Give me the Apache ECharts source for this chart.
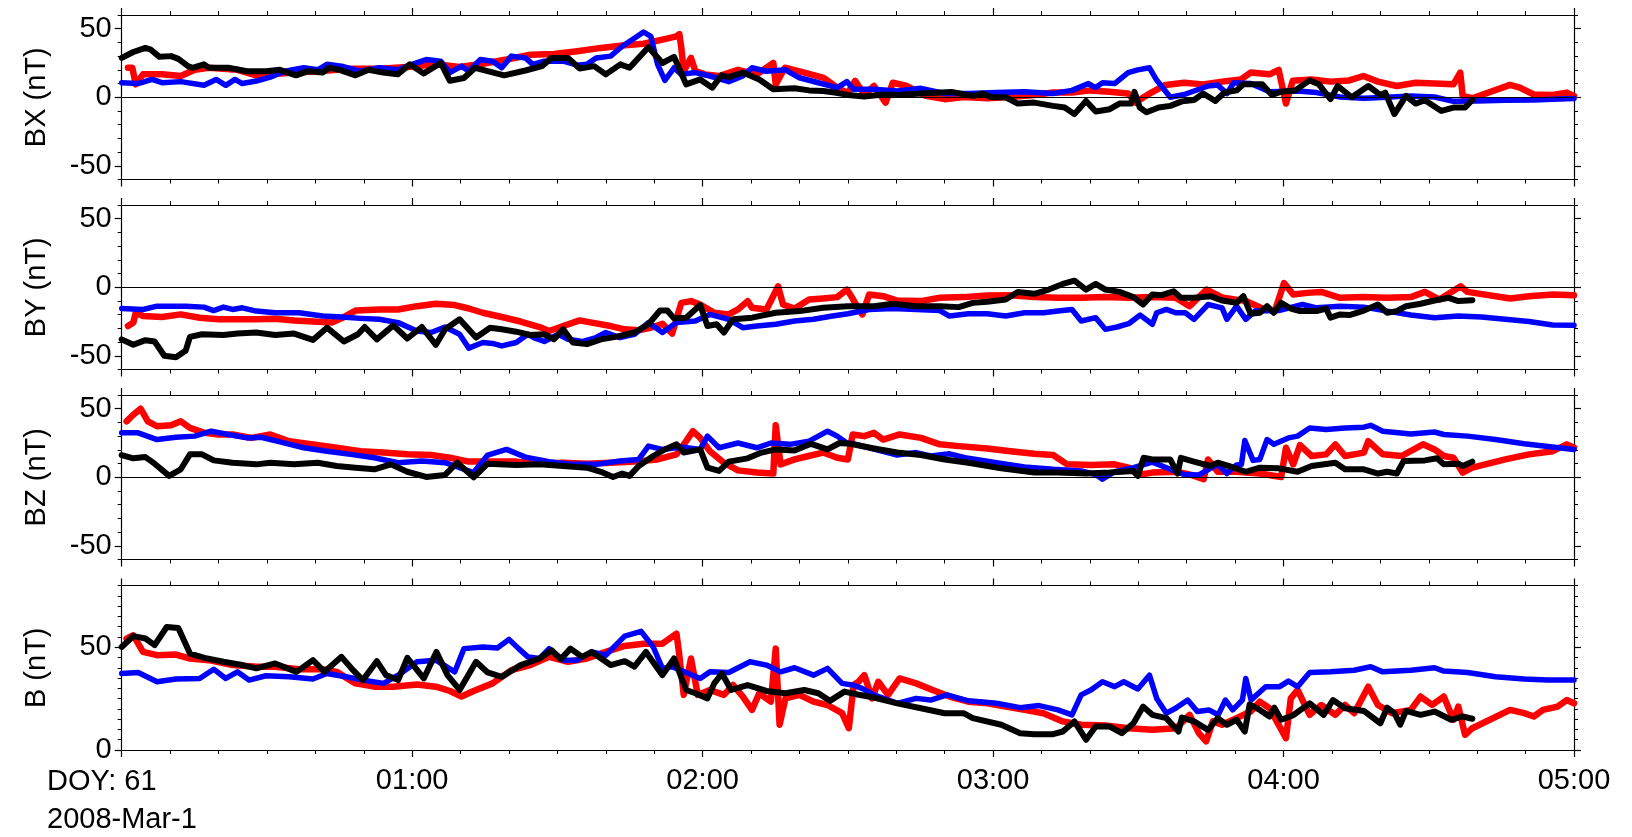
<!DOCTYPE html>
<html><head><meta charset="utf-8">
<script src="https://cdn.jsdelivr.net/npm/echarts@6/dist/echarts.min.js"></script>
<style>html,body{margin:0;padding:0;background:#fff}#c{width:1632px;height:837px}</style>
</head><body><div id="c"></div>
<script>
// x values are minutes after 00:00 (DOY 61, 2008-Mar-1)
const xTickLabels = ['', '01:00', '02:00', '03:00', '04:00', '05:00'];
const panelNames = ['BX (nT)', 'BY (nT)', 'BZ (nT)', 'B (nT)'];
const panelMin = [-60, -60, -60, 0];
const panelMax = [60, 60, 60, 80];
const panelMinorStep = [10, 10, 10, 5];
const panelLabels = [[-50, 0, 50], [-50, 0, 50], [-50, 0, 50], [0, 50]];
const dateLines = ['DOY: 61', '2008-Mar-1'];

const bxRed = [[1.3,21.5],[2.2,21.5],[2.9,9.4],[4.4,16.7],[8.3,16.7],[12.2,15.5],[15.1,20],[18,21.5],[23.9,20],[27.8,16],[30.7,16.7],[35.6,18],[40.5,19],[47.3,20.8],[53.2,20.8],[59,22],[64.9,24],[69.8,22],[74.6,24.4],[79.5,27.5],[84.4,31],[89.3,31.6],[94.1,33.6],[99,36],[103.9,38],[107.8,39],[111.7,42],[114.6,44.4],[115.2,46],[115.6,36],[116.1,19],[117.6,28.7],[118.5,19],[120.5,16.7],[123.4,15.5],[127.3,20],[131.2,16.7],[134.6,25],[135.1,9.4],[137,21.5],[141,18],[145,14.2],[147.8,7],[150,3],[151.5,12],[153.4,2],[155.4,8.2],[157.8,-3.9],[159.3,10.6],[162.2,8.2],[166.1,1],[170,-1.4],[173.9,0.2],[178.8,-0.7],[183.6,0.2],[188.5,1.7],[192.4,3.4],[196.3,3.4],[200.1,5],[204,4],[207.9,2.7],[209.4,-3.9],[211.2,0.2],[212.7,3.4],[215.6,9],[219.5,10.6],[223.4,9.4],[227.3,11.4],[231.2,13],[233.2,18],[237.1,16.7],[239,20],[240.5,-4.6],[241.9,12],[245.8,13],[249.7,11.4],[253.6,12.3],[256.5,15.5],[259.5,11.4],[263.4,8.2],[267.3,10.6],[271.2,10],[275.1,9.4],[276.5,18],[277,1],[279,-0.7],[286.8,9],[288.8,7],[291.7,2],[295.6,1.7],[298.5,3.4],[300,1]];
const bxBlue = [[0,10.6],[3.4,10],[6.3,13],[8.3,10.6],[12.2,11.4],[17,8.7],[19.5,13],[21.5,8.7],[23.4,13],[24.9,10],[27.8,11.8],[30.7,14.7],[33.7,19],[37.6,21.5],[40.5,20],[42.4,24],[45.4,22.7],[49.3,19],[53.2,21.5],[57,20],[60,24],[62.9,27.5],[65.9,26.3],[67.8,18],[70.2,22.7],[71.7,19],[74.1,27.5],[76.6,26.3],[78.5,21.5],[80.5,30],[83.4,28.7],[84.9,24],[87.3,26.3],[91.2,26.3],[94.1,23.4],[96.1,24],[98,28.7],[101,30],[103.4,37.2],[105.9,43],[107.8,47.6],[109.3,44.4],[110.7,24],[112.2,12.3],[114.1,21.5],[115.6,16.7],[118.5,18],[121.5,15.5],[125.4,11.4],[128.3,15.5],[130.2,21.5],[133.2,19],[137.1,20],[140,14.2],[143.9,10.6],[147.8,7],[149.8,11.4],[151.2,5.8],[155.4,5.8],[160.2,4.6],[165.1,6.5],[170,2.7],[174.9,2.7],[180.7,3.4],[186.5,4],[192.4,2.7],[196.3,5],[199.7,10],[201.1,7],[202.6,10.6],[205.1,10],[207.9,18],[209.9,20],[212.3,21.5],[213.7,13],[216.6,0],[219.5,2],[224.4,8.2],[226.4,9],[228.3,2.7],[229.7,10.6],[233.2,10],[237.1,4],[242.9,4.6],[246.8,3.4],[251.7,0.2],[256.6,-0.7],[261.4,0],[266.3,1],[271.2,0.2],[275.1,-3],[280,-2.7],[285.8,-2.2],[291.7,-2],[295.6,-1.4],[300,-1]];
const bxBlack = [[0,28.7],[2.4,33],[4.9,36],[5.9,35],[7.8,29.5],[10.2,30],[11.7,28],[13.7,22.7],[14.6,21.5],[17,24],[18,21.5],[22,21.5],[25.9,19],[29.8,19],[32.7,20],[36,16],[38.5,19],[41.5,18],[42.9,21.5],[45,20],[48.3,16],[51,20],[54,18],[57,16.7],[59.5,24],[62.4,17.4],[65.9,25],[67.8,12],[70.7,14],[73,21.5],[75.6,19],[79,16],[83.4,19.5],[86.8,22.7],[88.8,28.7],[92.2,28.7],[94.6,21],[97.6,22.7],[100,16.7],[103,24],[104.9,21.5],[108.8,36.5],[111.7,25],[114.1,29.5],[116.6,9.4],[119.5,13],[122,7],[123.9,16],[125.4,14.7],[128.3,18],[131.7,13],[134.6,5.8],[139,6.5],[142,5],[144.9,4.6],[147.3,3.4],[150,1.7],[153.4,0.5],[157.3,2],[160.2,1.7],[165.1,2.7],[171.4,3.9],[175.8,1],[177.8,2.7],[179.7,0],[182.6,0],[185.1,-4.6],[188.5,-3.9],[192.4,-6.3],[194.8,-7.5],[196.8,-12.3],[199.2,-2.7],[201.2,-10.4],[204.1,-8.7],[206.1,-4.6],[208.5,-4.6],[209.2,4],[210.3,-7.5],[211.7,-11],[214.2,-7.5],[216.6,-6.3],[219,-3],[221.5,-2],[223.4,2.7],[225.9,-2.7],[227.8,3.4],[230.3,5],[231.7,9.4],[233.2,9.4],[235.6,9.4],[237.6,1.7],[239.5,4],[242.4,5],[245.4,12.3],[247.3,9.4],[249.7,-1.4],[251.2,8.2],[254.1,0],[257.5,8.2],[260,1.7],[261,3.4],[262.9,-12.3],[265.3,1],[267.3,-4.6],[269.2,-2.2],[272.6,-10],[275.1,-7.5],[277.5,-7.5],[279,-2]];

const byRed = [[1.3,-28.3],[2.4,-25.8],[2.9,-18.6],[4.4,-21],[8.3,-21.7],[12.2,-19.8],[16.1,-22.2],[20,-23.4],[23.9,-23.4],[27.8,-23.4],[31.7,-23],[35.6,-24.2],[39.5,-25],[43.4,-25.8],[45.4,-22.7],[48.3,-17],[53.2,-16.2],[57.1,-16.2],[61,-13.8],[64.9,-12],[68.8,-13],[71.7,-15.5],[74.6,-18.6],[78.5,-21.7],[82.4,-25],[86.3,-29],[88.3,-31.9],[91.2,-28.3],[94.6,-24.2],[97.1,-25.8],[101,-28.3],[103.9,-30.7],[106.8,-31.4],[109.8,-29],[111.7,-26.6],[113.7,-33.8],[115.6,-11.4],[117.6,-10.1],[119.5,-12.6],[122.4,-18.6],[125.4,-19.8],[127.3,-16.2],[129.3,-10.1],[130.2,-15],[133.2,-16.2],[135.6,0.7],[136.6,-12.6],[139,-15.5],[142,-9],[144.9,-8.2],[147.8,-7.2],[149.8,-1.7],[150.6,-6],[151.5,-11.4],[153,-19.8],[154.4,-5.3],[157.3,-6.5],[160.2,-9.7],[165.1,-10.1],[169,-7.7],[173.9,-7.2],[178.8,-6],[183.6,-5.8],[188.5,-7.2],[193.4,-7.7],[198.2,-7.7],[203.1,-7.2],[208,-7.7],[212.9,-7.2],[217.7,-7.7],[220.6,-13.8],[224.1,-1.7],[227.5,-7.7],[232.3,-10.1],[235.3,-15],[238.2,-17.4],[240.1,3.1],[242,-5.3],[244.9,-4.1],[247.8,-3.4],[251.7,-7.7],[256.5,-7.2],[261.4,-7.7],[266.3,-7.2],[269.2,-3.4],[272.2,-9],[276.6,0.7],[278,-3.4],[286.8,-8.2],[290.7,-6.5],[295.6,-5.3],[300,-5.8]];
const byBlue = [[0,-15.5],[4.4,-16.2],[7.3,-13.8],[13.2,-13.8],[17,-14.5],[19,-17],[21,-14.5],[22.9,-16.2],[24.9,-15],[27.8,-17.4],[31.7,-18.6],[36.6,-18.6],[41.5,-21],[45.4,-21.7],[49.3,-22.7],[53.2,-23.4],[57.1,-25.8],[61,-31.9],[63.9,-33],[66.8,-29],[69.8,-34.3],[71.7,-44.4],[74.6,-40.3],[76.6,-41],[78.5,-42.8],[81.5,-40.3],[83.9,-34.3],[85.4,-37.2],[87.3,-39.6],[90.2,-34.3],[92.2,-38],[95.1,-39.6],[98,-36.7],[100,-33],[102.9,-36.7],[105.9,-34.3],[108.8,-25.8],[111.7,-33],[114.6,-25.8],[118.5,-24.6],[121.5,-19.8],[125.4,-23.4],[128.3,-29.5],[131.2,-28.3],[135.1,-27],[139,-24.6],[142.9,-23.4],[146.8,-21],[150,-19.3],[154.4,-16.2],[159.3,-15.5],[164.1,-16.2],[169,-17],[171,-21],[174.9,-19.3],[178.8,-19.3],[182.6,-21],[186.5,-18.6],[190.4,-18.6],[193.4,-17.4],[196.3,-16.2],[198.2,-24.6],[201.2,-22.2],[203.2,-30.7],[205.6,-29],[208,-26.6],[210.4,-20.3],[212.9,-27],[213.8,-18.6],[215.8,-16.2],[217.7,-18.6],[219.7,-18.6],[221.5,-23.4],[224.4,-12.6],[227.3,-15],[228.3,-23.4],[230.3,-13.8],[232.2,-23.4],[234.1,-17.4],[239,-17],[243.9,-12.6],[246.8,-15],[251.7,-13.8],[256.6,-14.5],[261.4,-17.4],[266.3,-20.3],[271.2,-22.2],[276.1,-21],[280.9,-21.7],[285.8,-23.4],[290.7,-25],[295.6,-27.5],[300,-27.8]];
const byBlack = [[0,-38],[2.4,-42],[4.9,-38.6],[6.8,-39.6],[8.8,-50],[11.2,-51],[13.2,-46.4],[14.1,-36.2],[16.6,-34.3],[21,-34.8],[23.9,-33.8],[27.8,-33],[31.7,-34.8],[35.6,-33.8],[39.5,-38.4],[42.4,-29.5],[45.9,-39.6],[48.8,-34.3],[50.2,-29],[52.7,-38],[56.1,-27.8],[59,-37.4],[62,-29],[64.9,-42],[66.8,-30.7],[69.8,-23.4],[73.2,-36.7],[76.1,-29.5],[78.5,-30.7],[81.5,-32.4],[84.4,-34.8],[87.3,-34.3],[89.3,-38],[91.2,-30.7],[93.2,-40.3],[96.1,-41.5],[99,-38],[102,-36.2],[105.9,-33],[108.8,-27],[111.2,-17],[112.7,-17],[114.1,-22.7],[116.6,-22.2],[119.5,-13],[121,-28.3],[122.9,-27],[124.4,-33],[126.3,-23.4],[130.2,-22.2],[135.1,-18.6],[140,-17.4],[144.9,-15],[150,-13.8],[155.4,-13.8],[159.3,-12],[164.1,-13.8],[169,-13.8],[172.9,-14.5],[175.8,-11.4],[178.8,-10.6],[182.6,-9],[185.1,-3.4],[188.5,-4.8],[191.5,-1.7],[194.4,2.4],[196.8,4.8],[199.2,-1.7],[201.2,2.4],[203.2,-1.7],[206.1,-3.4],[209,-7.2],[211,-12.6],[212.9,-5.3],[214.8,-5.8],[217.3,-2.9],[218.8,-7.7],[221.5,-7.7],[224.9,-6.5],[227.3,-9.7],[230.3,-11.4],[231.7,-6.5],[233.2,-19.3],[235.1,-18.6],[236.6,-13.8],[238,-18.6],[239.5,-11.4],[241.5,-15.5],[243.4,-17.4],[246.8,-17.4],[248.8,-15.5],[249.7,-22.2],[251.7,-19.8],[253.6,-20.3],[256.6,-17],[259.5,-12.6],[261.4,-18.6],[263.4,-17.4],[265.3,-13.8],[268.3,-12],[271.2,-9.7],[274.1,-7.7],[276.1,-10.1],[279,-9.4]];

const bzRed = [[1,40.8],[2.4,45.6],[3.9,50],[5.4,40.8],[7.3,37.2],[10.2,37.9],[12.2,40.8],[14.1,36],[17.1,32.4],[20,31.2],[22.9,31.2],[26.8,28.7],[30.7,31.2],[34.6,26.3],[39.5,24],[44.4,21.5],[49.3,19],[54.1,18],[59,16.7],[63.9,16.2],[67.8,14.2],[71.7,11.4],[75.6,11.4],[81.5,11.4],[86.3,9.9],[91.2,10.6],[96.1,9.9],[101,10.6],[105.9,11.4],[110.7,13],[114.6,16.7],[116.6,26.3],[118,33.6],[119.5,28.7],[121.5,19],[124.4,10.6],[127.3,5],[131.2,3.4],[134.6,2.7],[135.1,37.9],[136.1,9.4],[139,13],[141.9,15.5],[144.9,18],[147.8,14.2],[150,13],[151,31.2],[153.4,30],[155.4,32.4],[157.3,27.5],[160.7,31.2],[165.1,28.7],[169,24],[172.9,22.7],[178.8,21],[183.6,19],[188.5,17.1],[192.4,16.2],[195.3,9.4],[200.2,9],[205.1,9.4],[208,7],[209.9,1.7],[212.9,3.4],[217.8,4],[220.6,2],[223.5,-1.4],[224.4,13],[226.4,4],[230.2,4],[235.1,2.7],[239.5,0.2],[240.5,21.5],[242,9.4],[243.4,23.4],[245.8,15.5],[248.8,16.7],[250.7,24],[252.7,15.5],[256.6,18],[257.5,26.3],[260.5,16.7],[264.4,15.5],[268.8,24],[271.2,20.3],[273.1,15.5],[275.1,14.2],[277,3.4],[279,7],[285.8,13],[290.7,16.7],[295.6,19],[298.5,24],[300,21.5]];
const bzBlue = [[0,32.4],[3.4,32.4],[7.3,27.5],[11.2,29.2],[15.1,30],[18.5,33.6],[22,31.2],[25.9,28.7],[28.8,29.2],[32.7,25.8],[37.6,21.5],[42.4,19],[47.3,16.7],[52.2,14.2],[57.1,10.6],[62,11.8],[66.8,10.6],[68.8,8.2],[72.7,3.4],[75.6,16.2],[79.5,20.3],[83.4,14.7],[88.3,11.4],[93.2,9.4],[98,9.4],[102.9,11.8],[106.8,13],[108.8,22.7],[111.7,20.3],[115.6,22],[119.5,20.3],[121,30],[123.4,21.5],[127.3,25],[131.2,21.5],[134.1,25],[138,24],[142,26.3],[145.8,33.6],[147.8,30],[149.8,25],[151.2,24.4],[154.4,21.5],[160.2,16.2],[164.1,18],[167.1,15.5],[171,17.1],[174.9,13.8],[180.7,10.6],[186.5,7.5],[192.4,5.8],[198.2,4.6],[201.2,2],[202.6,-1.4],[205.1,4],[209,7],[212.9,11],[216.6,5.8],[219.5,2],[222.5,1.7],[226.4,9.4],[228.3,2.7],[230.3,9],[231.3,9.4],[232,26.8],[233.7,12.3],[235.1,13],[236.6,27.5],[238,24],[241,28.7],[242.9,30],[245.4,36],[248.8,34.8],[252.7,36],[256.6,36.5],[258,37.9],[260.5,33.6],[266.3,31.6],[271.2,33],[273.1,31.2],[278,30],[283.8,27.5],[289.7,24.4],[295.5,22],[300,20.3]];
const bzBlack = [[0,16.2],[2.4,13.8],[4.9,14.7],[6.8,9.9],[9.8,1],[12.2,5.8],[14.1,16.7],[16.6,16.7],[19,12.3],[22.9,10.6],[27.8,9.4],[30.7,10.6],[35.6,9.4],[40.5,10.6],[44.4,8.2],[48.3,7],[52.2,5.8],[55.6,9.4],[59,4],[62.9,0.2],[66.8,1.7],[69.3,10.6],[72.7,0],[75.6,9.9],[81.5,9],[86.3,9.4],[91.2,8.2],[96.1,7],[99,4],[101.5,0.2],[103.4,2.7],[104.9,1],[106.8,8.2],[109.8,15.5],[112.2,20.3],[114.6,24],[116.1,18],[119.5,20.3],[121,7],[123.4,4.6],[125.4,11.4],[129.3,13.8],[132.2,18],[135.1,20.3],[139,19.6],[142.4,24.4],[145.8,20.3],[148.3,25],[150.5,24.4],[155.4,21],[160.2,18],[165.1,16.2],[170,13],[174.9,10.6],[181.7,6.5],[188.5,3.4],[193.4,3.4],[199.3,2.7],[204.1,3.4],[209,4.6],[209.9,1],[211.1,14.2],[212.9,13],[216.6,13],[218.1,2.7],[218.8,14.2],[221.5,11.4],[224.9,8.2],[226.4,10.6],[229.3,7.5],[232.2,4],[235.1,7],[239,6.5],[242.9,4],[245.8,8.2],[250.7,10.6],[252.7,5.8],[256.6,5.8],[259.5,2.7],[261.4,4],[263.4,2.7],[264.8,11.8],[269.2,12.3],[271.7,13.8],[273.1,9.4],[276.1,9.9],[277,8.2],[279,11.4]];

const bRed = [[1,54.2],[2.4,55.8],[4.4,47.7],[7.3,46.1],[11.2,46.4],[14.1,44.5],[18,43.7],[22.9,41.3],[27.8,40.5],[31.7,40.5],[36.6,39.3],[41.5,39.3],[44.4,38],[48.3,32.4],[52.2,30.8],[56.1,30.8],[61,31.9],[64.9,30.8],[67.8,28.7],[70.2,26],[72.7,28.7],[76.6,32.4],[80.5,38.8],[84.4,41.3],[88.3,45.3],[92.2,42.9],[96.1,44.5],[100,47.7],[103.9,50.6],[107.8,51.7],[111.7,51.7],[114.6,56.6],[115.1,47.7],[116.1,26.8],[117.6,44.5],[119,26.8],[121.5,29.2],[124.4,26.8],[126.3,31.6],[128.3,26],[130.2,19.5],[131.7,27.6],[134.1,23.5],[135.1,49.3],[135.9,12.3],[137.1,25.1],[140,26.8],[142.9,23.5],[145.8,21.9],[148.8,17.9],[150.2,10.6],[151.2,31.6],[152.2,33.2],[153.4,36.4],[155,25.1],[156.3,33.2],[158.3,26.8],[160.7,34.8],[164.1,32.4],[167.5,29.2],[171,26],[174.9,23.5],[178.8,22.7],[182.6,21.1],[186.5,19.5],[190.4,17.9],[194.4,13.9],[198.2,12.3],[203.2,11.9],[208,10.6],[212.9,9.8],[217.8,10.6],[220.6,17.1],[222.5,8.2],[224,4.2],[225.4,13.9],[227.3,12.3],[230.3,15.5],[233.2,18.7],[235.1,23.5],[237.1,20.3],[240.5,5.8],[241.5,25.1],[242.9,29.2],[245.4,17.1],[247.8,21.9],[250.7,17.1],[252.7,21.9],[254.6,17.9],[257.5,30.8],[259.5,21.9],[262.4,17.9],[266.3,19.5],[268.3,26],[270.7,21.9],[273.1,26],[275.1,14.7],[276.1,21.1],[277.5,7.4],[279,10.6],[286.8,19.5],[289.7,17.9],[291.7,16.3],[293.6,19.5],[296.6,21.1],[298.5,24.3],[300,22.7]];
const bBlue = [[0,37.2],[3.4,37.7],[7.3,33.2],[11.2,34.5],[16.1,34.8],[19,39.3],[21.5,34.8],[23.9,38],[26.3,34],[29.8,36.1],[34.6,35.6],[39.5,34.5],[42.4,37.2],[46.3,35.6],[51.2,33.5],[54.1,32.4],[57.1,36.4],[61,42.9],[64.9,43.7],[68.8,38],[70.7,49.3],[74.6,50.1],[77.6,49.6],[80,53.8],[82,49.3],[83.9,45.3],[86.3,44.5],[88.3,49.3],[91.2,43.7],[94.1,43.7],[97.1,47.7],[100,46.1],[103.9,55.4],[107.3,57.7],[109.8,50.1],[111.7,39.7],[113.7,40.5],[116.6,37.7],[119.5,34.8],[121.5,38],[125.4,37.7],[129.8,42.9],[133.2,41.3],[136.1,38],[139,40],[142.9,36.4],[145.8,39.7],[148.8,32.4],[151.2,31.5],[152.9,30],[155.4,26.8],[160.2,22.7],[164.1,25.1],[167.1,24.3],[170.5,26.8],[174.9,23.9],[180.7,22.7],[185.6,20.6],[189.5,21.6],[193.4,19.5],[196.3,17.1],[198.2,26.8],[200.2,29.2],[202.6,33.2],[205.1,30.8],[207,33.2],[209.9,29.7],[212.3,36.4],[213.8,25.1],[215.8,17.9],[217.7,20.3],[220.2,24.3],[222.2,18.7],[224.6,19.5],[226.5,17.1],[228,24.3],[229.5,19.5],[231.5,24.3],[232.2,34.8],[233.3,24.3],[236.3,30.8],[239.2,30.8],[241,33.5],[242.9,30.8],[245.4,37.7],[249.7,38],[254.6,38.8],[258,40.5],[260.5,38],[266.3,38.8],[271.2,40],[273.1,38.4],[278,37.7],[283.8,35.6],[289.7,34.5],[294.5,34],[300,34]];
const bBlack = [[0,50.1],[2.4,55.4],[4.9,54.2],[6.8,51],[9.3,59.8],[11.7,59.3],[14.1,46.9],[17.1,44.8],[21,42.9],[24.9,41.3],[27.8,39.7],[31.7,42.1],[36.1,38],[39.5,43.7],[41.9,38],[45.4,45.3],[47.8,38.8],[49.8,34],[52.7,43.2],[54.6,36.4],[57.1,34],[59,44.8],[62.4,34.8],[65,47.7],[67.3,36.4],[69.8,29.2],[73.2,42.9],[75.6,37.7],[78.5,35.6],[82.4,41.3],[86.3,44.5],[88.8,48.5],[90.7,44.2],[92.7,49.3],[95.1,45.3],[97.1,47.7],[101,41.3],[103.9,43.2],[105.9,40.5],[108.3,47.7],[111.7,36.4],[114.1,44.5],[116.6,29.2],[118.5,27.6],[121,25.1],[122.4,32.4],[124,37.2],[125.9,29.2],[129.3,31.6],[133.2,28.7],[137.1,27.6],[141,29.2],[143.9,27.6],[146.3,23.9],[149.3,28.4],[152,27],[155.4,25.5],[160.2,22.7],[165.1,20.3],[170,17.9],[173.9,17.9],[175.8,15.5],[181.7,12.3],[185.6,8.2],[188.5,7.7],[192.4,7.7],[194.4,9],[196.8,13.9],[199.2,5],[201.2,11.4],[204.1,11.4],[206.6,8.2],[209,13],[211,21.1],[212.9,17.1],[215.8,15.5],[218.3,9],[219,15.8],[221.5,13.9],[224.4,9.8],[226.4,15.5],[228.3,12.3],[230.3,14.7],[232,9],[233,22.2],[235.1,19.5],[237.1,16.3],[238.1,20.6],[239.5,14.7],[241.9,16.8],[245.4,22.7],[248.3,17.1],[250.2,24.3],[252.7,20.3],[256.6,19],[260,13],[261.4,20.6],[262.9,17.9],[264.1,12.3],[265.3,19],[268.3,17.1],[271.2,18.7],[274.6,14.7],[277,16.3],[279,15.2]];

const panelSeries = [
  [bxRed, bxBlue, bxBlack],
  [byRed, byBlue, byBlack],
  [bzRed, bzBlue, bzBlack],
  [bRed, bBlue, bBlack]
];
const seriesColors = ['#ff0000', '#0000ff', '#000000'];
const seriesWidths = [6.5, 5.5, 6];

const FONT = '"Liberation Sans", Arial, Helvetica, sans-serif';
const FS = 29;
const tops = [15, 205, 395, 585.5];
const H = 164.5;
const LEFT = 121.7, WIDTH = 1452.3;

const grid = tops.map(t => ({left: LEFT, width: WIDTH, top: t, height: H, containLabel: false}));

const xAxis = [];
const yAxis = [];
const series = [];
const lineC = {color: '#000', width: 1.2};

for (let i = 0; i < 4; i++) {
  ['bottom', 'top'].forEach(pos => {
    xAxis.push({
      type: 'value', gridIndex: i, position: pos, min: 0, max: 300, interval: 60,
      axisLine: {show: true, onZero: false, lineStyle: lineC},
      axisTick: {show: true, inside: false, length: 7, lineStyle: lineC},
      minorTick: {show: true, splitNumber: 6, length: 4, lineStyle: {color: '#000', width: 1}},
      splitLine: {show: false}, minorSplitLine: {show: false},
      axisLabel: {show: pos === 'bottom' && i === 3, margin: 16, color: '#000', fontSize: FS, fontFamily: FONT,
        formatter: v => xTickLabels[Math.round(v / 60)]}
    });
  });
  ['left', 'right'].forEach(pos => {
    yAxis.push({
      type: 'value', gridIndex: i, position: pos, min: panelMin[i], max: panelMax[i],
      axisLine: {show: true, onZero: false, lineStyle: lineC},
      axisTick: {show: true, inside: false, length: 7, customValues: panelLabels[i], lineStyle: lineC},
      axisLabel: {show: pos === 'left', customValues: panelLabels[i], margin: 10, color: '#000', fontSize: FS, fontFamily: FONT},
      splitLine: {show: false},
      name: pos === 'left' ? panelNames[i] : '', nameLocation: 'middle', nameGap: 70,
      nameTextStyle: {color: '#000', fontSize: FS, fontFamily: FONT}
    });
    yAxis.push({
      type: 'value', gridIndex: i, position: pos, min: panelMin[i], max: panelMax[i], interval: panelMinorStep[i],
      axisLine: {show: false, onZero: false},
      axisTick: {show: true, inside: false, length: 4, lineStyle: {color: '#000', width: 1}},
      axisLabel: {show: false}, splitLine: {show: false}
    });
  });
  const xi = i * 2, yi = i * 4;
  if (i < 3) {
    series.push({
      type: 'line', xAxisIndex: xi, yAxisIndex: yi, data: [], z: 1, silent: true,
      markLine: {silent: true, symbol: ['none', 'none'], label: {show: false},
        lineStyle: {color: '#000', width: 1.2, type: 'solid'}, data: [{yAxis: 0}], animation: false}
    });
  }
  panelSeries[i].forEach((d, k) => {
    series.push({
      type: 'line', xAxisIndex: xi, yAxisIndex: yi, data: d, showSymbol: false, symbol: 'none',
      z: 2 + k, silent: true,
      lineStyle: {color: seriesColors[k], width: seriesWidths[k], cap: 'round', join: 'round'}
    });
  });
}

const chart = echarts.init(document.getElementById('c'), null, {renderer: 'canvas'});
chart.setOption({
  animation: false,
  backgroundColor: '#fff',
  grid, xAxis, yAxis, series,
  graphic: dateLines.map((t, j) => ({
    type: 'text', left: 47, top: 767 + j * 38.5,
    style: {text: t, fill: '#000', font: FS + 'px ' + FONT}
  }))
});
</script></body></html>
